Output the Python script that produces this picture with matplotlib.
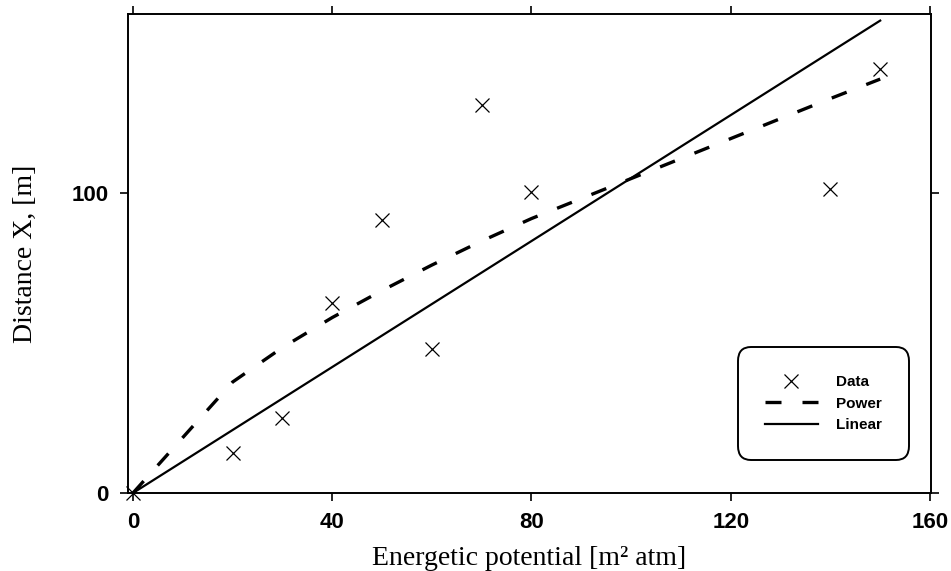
import matplotlib
matplotlib.use("Agg")
import matplotlib.pyplot as plt

# Data
data_x = [0, 20, 30, 40, 50, 60, 70, 80, 140, 150]
data_y = [0, 13.5, 25, 63.5, 91, 48, 129.5, 100.5, 101.5, 141.5]

# Power fit curve (sampled at data x)
power_x = [0, 20, 30, 40, 50, 60, 70, 80, 140, 150]
power_y = [0, 37, 48.5, 58.5, 67.5, 76, 84, 91.5, 131.5, 138]

# Linear fit
linear_x = [0, 150]
linear_y = [0, 157.5]

x_ticks = [0, 40, 80, 120, 160]
y_ticks = [0, 100]

fig = plt.figure(figsize=(9.51, 5.71), dpi=100)
ax = fig.add_axes([128 / 951, 78 / 571, 803 / 951, 479 / 571])

ax.plot(data_x, data_y, linestyle='none', marker='x', markersize=10,
        markeredgewidth=0.9, color='black', label='Data', clip_on=False, zorder=3)
ax.plot(power_x, power_y, color='black', linewidth=2.4, dashes=(4.8, 6.3),
        label='Power', dash_capstyle='butt')
ax.plot(linear_x, linear_y, color='black', linewidth=1.6, label='Linear')

ax.set_xlim(-1, 160.2)
ax.set_ylim(0, 159.7)
ax.set_xticks(x_ticks)
ax.set_yticks(y_ticks)

for s in ax.spines.values():
    s.set_linewidth(1.4)

ax.tick_params(axis='both', direction='out', length=6, width=1.2,
               top=True, right=True, labelsize=16)
ax.tick_params(axis='x', pad=8)
ax.tick_params(axis='y', pad=8)
for lab in ax.get_xticklabels() + ax.get_yticklabels():
    lab.set_fontfamily('Liberation Sans')
    lab.set_fontweight('bold')

ax.set_xlabel('Energetic potential [m² atm]', fontfamily='Liberation Serif',
              fontsize=20, labelpad=9)
ax.set_ylabel('Distance X, [m]', fontfamily='Liberation Serif',
              fontsize=20, labelpad=24)

leg = ax.legend(loc='center', bbox_to_anchor=(823.5 / 951, (571 - 403.5) / 571),
                bbox_transform=fig.transFigure,
                prop={'family': 'Liberation Sans', 'weight': 'bold', 'size': 11},
                handlelength=3.45, handletextpad=1.2, labelspacing=0.5,
                borderpad=1.8, borderaxespad=0, frameon=True, fancybox=True)
frame = leg.get_frame()
frame.set_edgecolor('black')
frame.set_linewidth(1.4)
frame.set_facecolor('white')
frame.set_alpha(1)
frame.set_boxstyle('round', pad=0, rounding_size=0.9)

fig.savefig('out.png', dpi=100)
